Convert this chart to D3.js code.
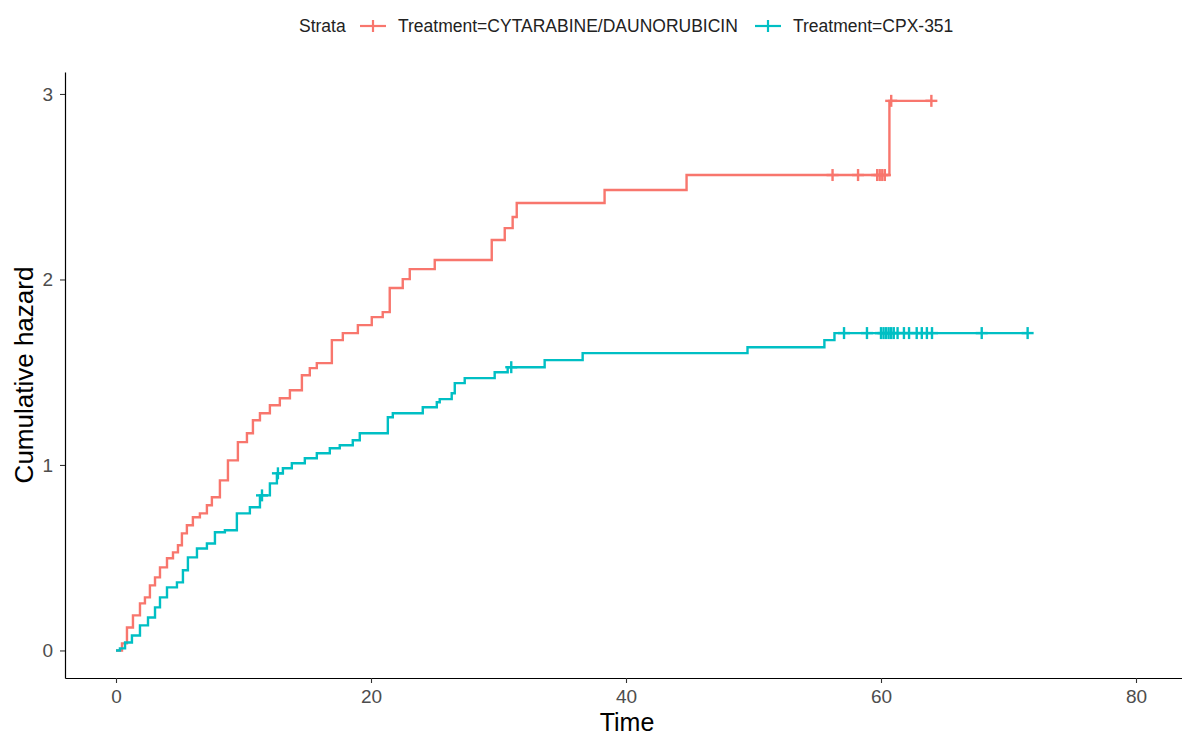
<!DOCTYPE html>
<html>
<head>
<meta charset="utf-8">
<script src="https://cdn.jsdelivr.net/npm/d3@7"></script>
<style>
  body { margin: 0; background: #fff; }
  text { font-family: "Liberation Sans", Arial, sans-serif; }
</style>
</head>
<body>
<div id="chart"></div>
<script>
// 数据：阶梯点 (时间, 累积风险)
const strataNames = ['Treatment=CYTARABINE/DAUNORUBICIN', 'Treatment=CPX-351'];
const strataColors = ['#F8766D', '#00BFC4'];

const redTime = [0, 0.47, 0.86, 1.33, 1.88, 2.27, 2.66, 3.06, 3.45, 4.0, 4.47, 4.86, 5.17, 5.56, 6.03, 6.58,
  7.13, 7.52, 8.15, 8.78, 9.56, 10.27, 10.74, 11.29, 12.07, 12.85, 13.64, 14.58, 15.2, 15.75, 16.93, 17.79,
  18.97, 20.06, 20.92, 21.47, 22.49, 23.04, 25.0, 29.47, 30.49, 31.11, 31.43, 38.32, 44.75, 60.66, 63.95];
const redHaz = [0, 0.038, 0.124, 0.189, 0.254, 0.286, 0.351, 0.394, 0.448, 0.497, 0.529, 0.567, 0.631, 0.675,
  0.718, 0.739, 0.783, 0.826, 0.917, 1.025, 1.123, 1.171, 1.241, 1.279, 1.322, 1.36, 1.403, 1.484, 1.522,
  1.549, 1.673, 1.711, 1.754, 1.797, 1.824, 1.954, 2.002, 2.056, 2.105, 2.213, 2.277, 2.337, 2.412, 2.482,
  2.563, 2.963, 2.963];
const redCensor = [56.2, 58.2, 59.7, 59.9, 60.1, 60.3, 60.8, 63.95];

const tealTime = [0, 0.31, 0.71, 1.25, 1.88, 2.51, 3.06, 3.45, 4.0, 4.78, 5.25, 5.64, 6.35, 7.13, 7.76, 8.54,
  9.48, 10.5, 11.29, 12.07, 12.62, 13.09, 13.79, 14.81, 15.75, 16.77, 17.55, 18.57, 19.12, 21.32, 21.71,
  24.06, 25.16, 25.39, 26.33, 26.57, 27.35, 29.7, 30.72, 33.62, 36.6, 49.53, 55.56, 56.35, 71.5];
const tealHaz = [0, 0.011, 0.043, 0.081, 0.135, 0.178, 0.232, 0.286, 0.34, 0.367, 0.432, 0.502, 0.55, 0.577,
  0.637, 0.648, 0.739, 0.772, 0.836, 0.901, 0.955, 0.982, 1.009, 1.036, 1.063, 1.09, 1.106, 1.133, 1.171,
  1.257, 1.279, 1.311, 1.338, 1.355, 1.387, 1.441, 1.468, 1.5, 1.527, 1.565, 1.603, 1.635, 1.673, 1.711, 1.711];
const tealCensor = [11.45, 12.7, 31.0, 57.1, 58.9, 60.0, 60.2, 60.4, 60.6, 60.8, 61.0, 61.3, 61.8, 62.2,
  62.8, 63.2, 63.6, 64.0, 67.9, 71.5];

const xTicks = [0, 20, 40, 60, 80];
const yTicks = [0, 1, 2, 3];

const width = 1182, height = 740;
const svg = d3.select('#chart').append('svg')
  .attr('width', width)
  .attr('height', height);

const x = d3.scaleLinear().domain([-4, 84]).range([65, 1187]);
const y = d3.scaleLinear().domain([-0.1485, 3.1185]).range([678, 72]);

// 坐标轴
const xAxis = svg.append('g')
  .attr('transform', `translate(0,${y.range()[0]})`)
  .call(d3.axisBottom(x).tickValues(xTicks).tickFormat(d3.format('d')).tickSize(5).tickPadding(7).tickSizeOuter(0));
const yAxis = svg.append('g')
  .attr('transform', `translate(${x.range()[0]},0)`)
  .call(d3.axisLeft(y).tickValues(yTicks).tickFormat(d3.format('d')).tickSize(5).tickPadding(7).tickSizeOuter(0));
[xAxis, yAxis].forEach(a => {
  a.select('.domain').attr('stroke', '#000').attr('stroke-width', 1.2);
  a.selectAll('.tick line').attr('stroke', '#333').attr('stroke-width', 1.1);
  a.selectAll('.tick text').style('font-size', '19px').attr('fill', '#4D4D4D');
});

svg.append('text')
  .attr('x', 627)
  .attr('y', 731)
  .attr('text-anchor', 'middle')
  .style('font-size', '25px')
  .attr('fill', '#000')
  .text('Time');
svg.append('text')
  .attr('transform', `translate(33,375) rotate(-90)`)
  .attr('text-anchor', 'middle')
  .style('font-size', '26px')
  .attr('fill', '#000')
  .text('Cumulative hazard');

// 曲线
const series = [
  { time: redTime, haz: redHaz, censor: redCensor },
  { time: tealTime, haz: tealHaz, censor: tealCensor },
];
const line = d3.line().x(d => x(d[0])).y(d => y(d[1])).curve(d3.curveStepAfter);
const hazAt = (s, t) => s.haz[Math.max(0, d3.bisectRight(s.time, t) - 1)];

series.forEach((s, i) => {
  const pts = s.time.map((t, k) => [t, s.haz[k]]);
  svg.append('path')
    .attr('d', line(pts))
    .attr('fill', 'none')
    .attr('stroke', strataColors[i])
    .attr('stroke-width', 2.4);
  // 删失标记 "+"
  const g = svg.append('g').attr('stroke', strataColors[i]).attr('stroke-width', 2.4);
  s.censor.forEach(t => {
    const cx = x(t), cy = y(hazAt(s, t));
    g.append('line').attr('x1', cx - 6).attr('x2', cx + 6).attr('y1', cy).attr('y2', cy);
    g.append('line').attr('x1', cx).attr('x2', cx).attr('y1', cy - 6).attr('y2', cy + 6);
  });
});

// 图例
const legend = svg.append('g').attr('transform', 'translate(0,26)');
legend.append('text').attr('x', 299).attr('y', 6).style('font-size', '17.5px').attr('fill', '#222').text('Strata');
const legendX = [360, 755];
strataNames.forEach((name, i) => {
  const lx = legendX[i];
  const g = legend.append('g').attr('stroke', strataColors[i]).attr('stroke-width', 2.2);
  g.append('line').attr('x1', lx).attr('x2', lx + 26).attr('y1', 0).attr('y2', 0);
  g.append('line').attr('x1', lx + 13).attr('x2', lx + 13).attr('y1', -6).attr('y2', 6);
  legend.append('text').attr('x', lx + 38).attr('y', 6).style('font-size', '17.5px').attr('fill', '#222').text(name);
});
</script>
</body>
</html>
